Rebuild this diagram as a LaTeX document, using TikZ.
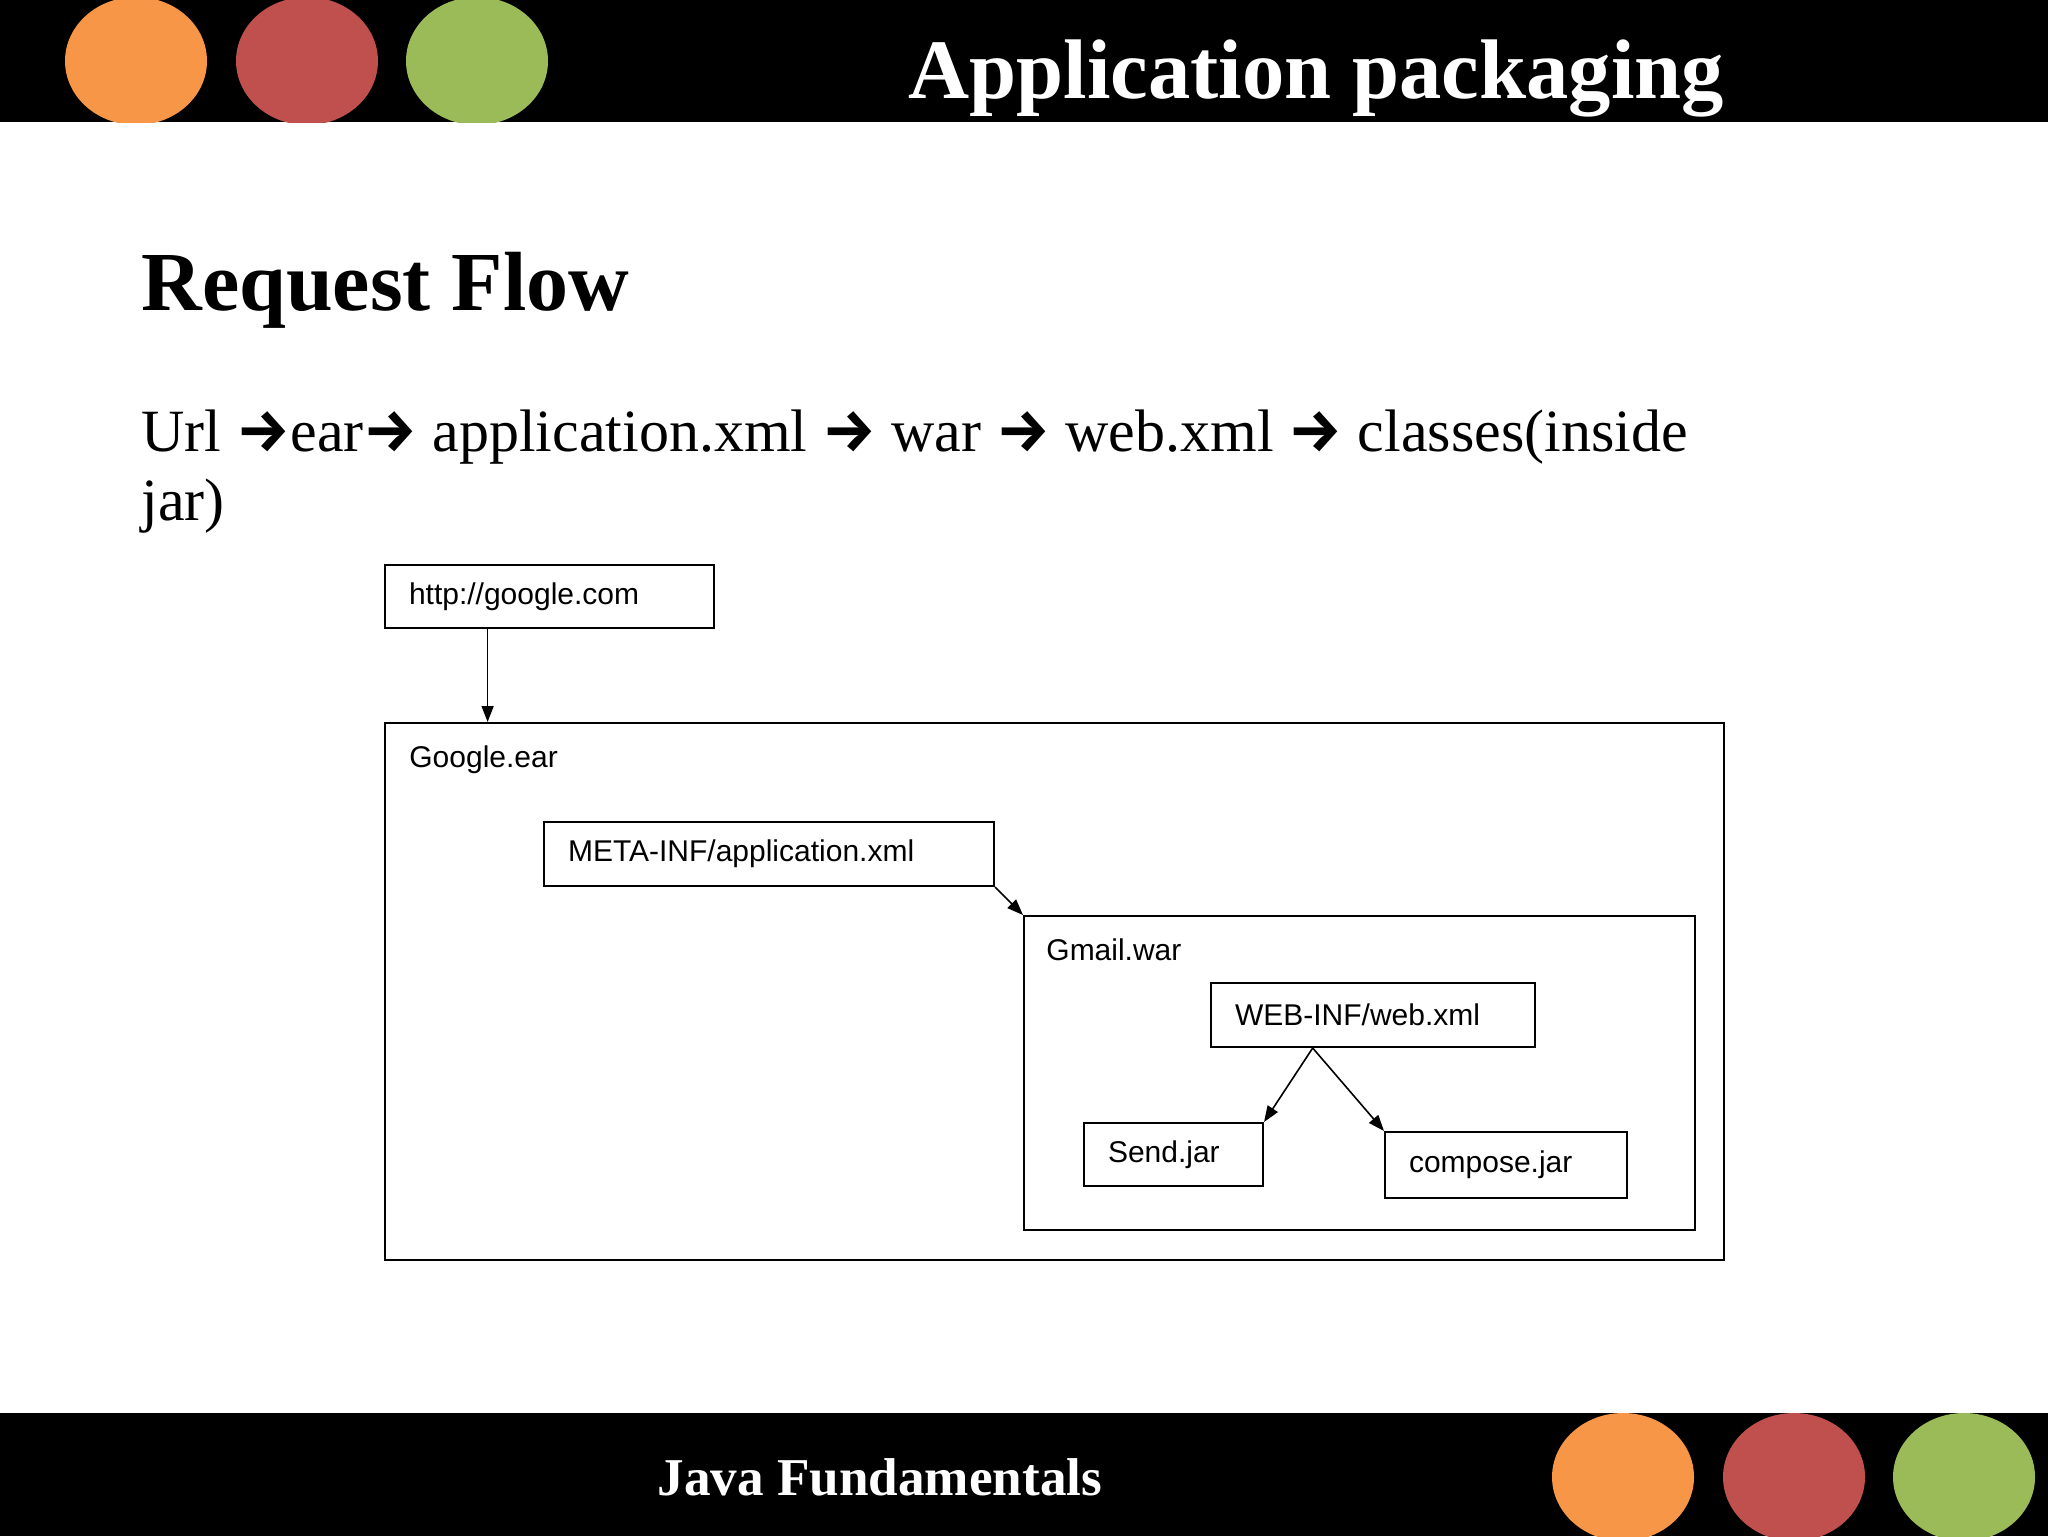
\documentclass[tikz,border=0pt]{standalone}
\usepackage{fontspec}
\setmainfont{Liberation Serif}
\newfontfamily\diagfont{Liberation Sans}
\newfontfamily\arrfont{Fira Sans}
\usetikzlibrary{arrows.meta,calc}
\definecolor{dotorange}{HTML}{F79646}
\definecolor{dotred}{HTML}{C0504D}
\definecolor{dotgreen}{HTML}{9BBB59}
\newcommand{\ra}{{\arrfont\bfseries\char"2192}}
\begin{document}
\begin{tikzpicture}[x=0.5pt,y=-0.5pt,
  boxnode/.style={draw, line width=1pt, rectangle, anchor=north west, inner xsep=12pt, inner ysep=0pt, align=left, font=\diagfont\fontsize{15}{18}\selectfont},
  plain/.style={anchor=base west, inner sep=0pt, font=\diagfont\fontsize{15}{18}\selectfont},
  conn/.style={line width=0.8pt, -{Triangle[length=8pt,width=6pt]}}]
\useasboundingbox (0,0) rectangle (2048,1536);
\fill[white] (0,0) rectangle (2048,1536);
% header and footer bars
\fill[black] (0,0) rectangle (2048,122);
\fill[black] (0,1413) rectangle (2048,1536);
\begin{scope}
\clip (0,0) rectangle (2048,122);
\fill[dotorange] (136,61) ellipse [x radius=71, y radius=64];
\fill[dotred] (307,61) ellipse [x radius=71, y radius=64];
\fill[dotgreen] (477,61) ellipse [x radius=71, y radius=64];
\end{scope}
\begin{scope}
\clip (0,1413) rectangle (2048,1536);
\fill[dotorange] (1623,1477) ellipse [x radius=71, y radius=64];
\fill[dotred] (1794,1477) ellipse [x radius=71, y radius=64];
\fill[dotgreen] (1964,1477) ellipse [x radius=71, y radius=64];
\end{scope}
\node[anchor=base west, inner sep=0pt, text=white, font=\bfseries\fontsize{42.3}{50}\selectfont] (title) at (908,98) {Application packaging};
\node[anchor=base west, inner sep=0pt, text=white, font=\bfseries\fontsize{26.6}{32}\selectfont] (footer) at (657,1495) {Java Fundamentals};
\node[anchor=base west, inner sep=0pt, font=\bfseries\fontsize{42}{48}\selectfont] (heading) at (141,310) {Request Flow};
\node[anchor=base west, inner sep=0pt, font=\fontsize{30}{34.5}\selectfont] (line1) at (141,451) {Url \ra ear\ra{} application.xml \ra{} war \ra{} web.xml \ra{} classes(inside};
\node[anchor=base west, inner sep=0pt, font=\fontsize{30}{34.5}\selectfont] (line2) at (141,520) {jar)};
% diagram
\node[boxnode, minimum width=164.5pt, minimum height=31.5pt, text width=140.5pt] (http) at (384,564) {http://google.com};
\node[draw, line width=1pt, rectangle, anchor=north west, inner sep=0pt, minimum width=669.5pt, minimum height=268.5pt] (ear) at (384,722) {};
\node[plain] (earlabel) at (409,767) {Google.ear};
\node[boxnode, minimum width=225pt, minimum height=32pt, text width=201pt] (meta) at (543,821) {META-INF/application.xml};
\node[draw, line width=1pt, rectangle, anchor=north west, inner sep=0pt, minimum width=335.5pt, minimum height=157pt] (war) at (1023,915) {};
\node[plain] (warlabel) at (1046,960) {Gmail.war};
\node[boxnode, minimum width=162pt, minimum height=32pt, text width=138pt] (web) at (1210,982) {WEB-INF/web.xml};
\node[boxnode, minimum width=89.5pt, minimum height=31.5pt, text width=65.5pt] (send) at (1083,1122) {Send.jar};
\node[boxnode, minimum width=121pt, minimum height=33pt, text width=97pt] (compose) at (1384,1131) {compose.jar};
\coordinate (httpout) at ($(http.south west)!0.313!(http.south east)$);
\draw[conn] (httpout) -- (httpout |- ear.north);
\draw[conn] (meta.south east) -- (war.north west);
\coordinate (webout) at ($(web.south west)!0.315!(web.south east)$);
\draw[conn] (webout) -- (send.north east);
\draw[conn] (webout) -- (compose.north west);
\end{tikzpicture}
\end{document}
